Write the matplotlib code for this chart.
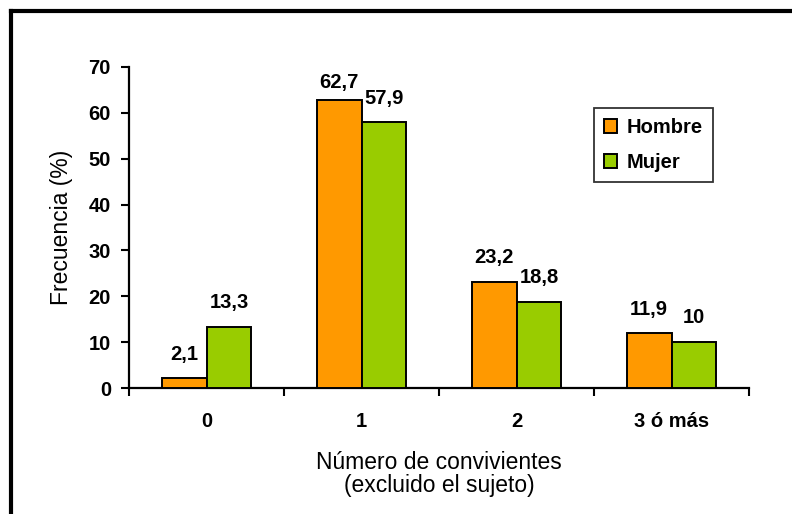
import matplotlib
matplotlib.use("Agg")
import matplotlib.pyplot as plt
from matplotlib.lines import Line2D
import numpy as np

categories = ["0", "1", "2", "3 ó más"]
hombre = [2.1, 62.7, 23.2, 11.9]
mujer = [13.3, 57.9, 18.8, 10.0]
hombre_labels = ["2,1", "62,7", "23,2", "11,9"]
mujer_labels = ["13,3", "57,9", "18,8", "10"]
series_names = ["Hombre", "Mujer"]
y_ticks = [0, 10, 20, 30, 40, 50, 60, 70]

plt.rcParams['font.family'] = ['Liberation Sans', 'DejaVu Sans']

W, H = 792, 514
fig = plt.figure(figsize=(W / 100, H / 100), dpi=100)
ax = fig.add_axes([129 / W, 1 - 388 / H, (749 - 129) / W, (388 - 67) / H])

orange = "#FF9900"
green = "#99CC00"
x = np.arange(len(categories))
bw = 0.29

ax.bar(x - bw / 2, hombre, bw, color=orange, edgecolor="black", linewidth=1.4,
       label=series_names[0], zorder=3)
ax.bar(x + bw / 2, mujer, bw, color=green, edgecolor="black", linewidth=1.4,
       label=series_names[1], zorder=3)

# value labels: baseline a fixed gap above each bar, kept below the top of the plot
gap = 4.1
cap = 65.4
lab_font = dict(fontsize=14.5, fontweight="bold", ha="center", va="baseline")
for i in range(len(categories)):
    ax.text(x[i] - bw / 2, min(hombre[i] + gap, cap), hombre_labels[i], **lab_font)
    ax.text(x[i] + bw / 2, min(mujer[i] + gap, cap), mujer_labels[i], **lab_font)

ax.set_xlim(-0.5, len(categories) - 0.5)
ax.set_ylim(0, 70)
ax.set_yticks(y_ticks)
ax.set_yticklabels([str(t) for t in y_ticks], fontsize=14.5, fontweight="bold")
ax.set_xticks(x)
ax.set_xticklabels(categories, fontsize=14.5, fontweight="bold")
ax.tick_params(axis="x", which="major", length=0, pad=17)
ax.tick_params(axis="y", length=6, width=1.5, pad=7)
# separator ticks between categories
ax.set_xticks(np.arange(-0.5, len(categories)), minor=True)
ax.tick_params(axis="x", which="minor", length=6, width=1.5, direction="out")

for s in ["top", "right"]:
    ax.spines[s].set_visible(False)
for s in ["left", "bottom"]:
    ax.spines[s].set_linewidth(1.6)

ax.set_ylabel("Frecuencia (%)", fontsize=16.5, labelpad=11)
ax.set_xlabel("Número de convivientes\n(excluido el sujeto)", fontsize=16.5,
              labelpad=15, linespacing=1.0)

leg = ax.legend(loc="upper left",
                bbox_to_anchor=((594 - 129) / 620, 1 - (108 - 67) / 321),
                frameon=True, fancybox=False, edgecolor="black",
                prop=dict(weight="bold", size=14.5), handlelength=0.66,
                handleheight=0.66, handletextpad=0.45, labelspacing=0.8,
                borderpad=0.5, borderaxespad=0)
leg.get_frame().set_linewidth(1.3)

# outer frame (top and left edges)
fig.add_artist(Line2D([11 / W, 1.0], [1 - 11 / H, 1 - 11 / H], color="black",
                      linewidth=3, transform=fig.transFigure))
fig.add_artist(Line2D([11 / W, 11 / W], [0.0, 1 - 11 / H], color="black",
                      linewidth=3, transform=fig.transFigure))

fig.savefig("out.png", dpi=100)
